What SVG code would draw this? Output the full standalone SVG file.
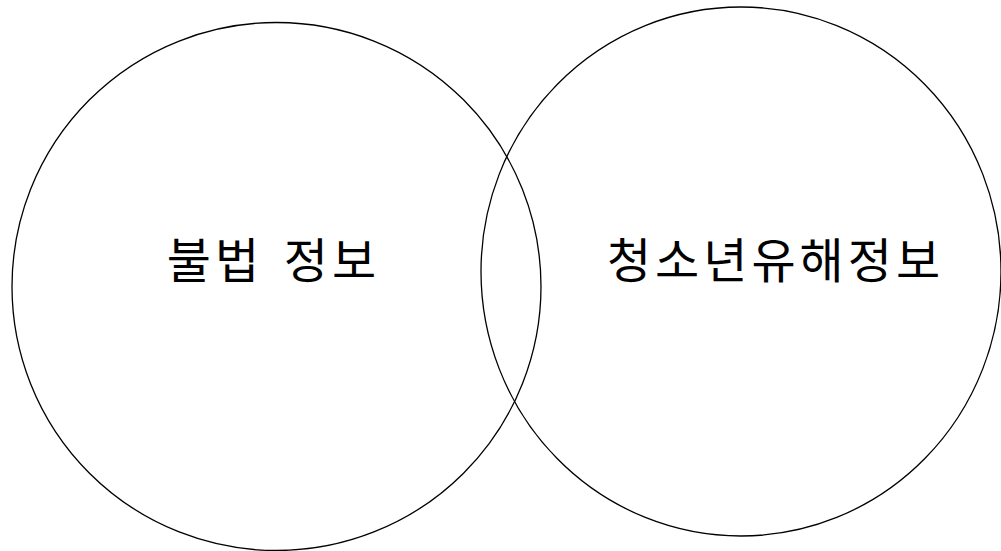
<svg xmlns="http://www.w3.org/2000/svg" width="1001" height="551" viewBox="0 0 1001 551">
<style>
.c{fill:none;stroke:#000;stroke-width:1.3}
.t{font-family:"Noto Sans CJK KR","Noto Sans",sans-serif;font-size:48px;font-weight:400;fill:#000;text-anchor:middle;letter-spacing:4px}
</style>
<rect width="1001" height="551" fill="#fff"/>
<g id="node-illegal">
<ellipse class="c" cx="276.5" cy="286.5" rx="264.5" ry="264"/>
<text class="t" x="273.5" y="278" word-spacing="6">불법 정보</text>
</g>
<g id="node-harmful">
<ellipse class="c" cx="741" cy="271.5" rx="260" ry="264.5"/>
<text class="t" x="775.5" y="278">청소년유해정보</text>
</g>
<g id="connectors"></g>
</svg>
